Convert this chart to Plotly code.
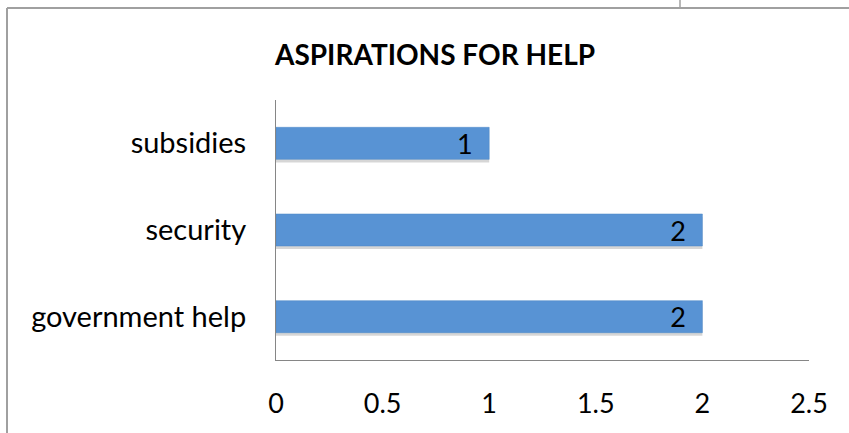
import plotly.graph_objects as go

categories = ["government help", "security", "subsidies"]
values = [2, 2, 1]
x_ticks = [0, 0.5, 1, 1.5, 2, 2.5]
x_tick_labels = ["0", "0.5", "1", "1.5", "2", "2.5"]
title = "ASPIRATIONS FOR HELP"

W, H = 849, 433
L, R, T, B = 276, 40, 100, 73
pw = W - L - R
ph = H - T - B

def px_x(p):
    return (p - L) / pw

def px_y(p):
    return (H - B - p) / ph

FONT = "Lato, 'Open Sans', sans-serif"

fig = go.Figure()
# soft shadow below the bars
fig.add_trace(go.Bar(
    y=categories, x=values, orientation="h",
    marker=dict(color="rgba(0,0,0,0.16)", line=dict(width=0)),
    width=0.37, offset=-0.22, hoverinfo="skip", showlegend=False,
))
fig.add_trace(go.Bar(
    y=categories, x=values, orientation="h",
    marker=dict(color="#5893d4", line=dict(color="#4f88c6", width=0.5)),
    width=0.37, offset=-0.185,
    text=[str(v) for v in values],
    texttemplate="%{text}\u2002",
    textposition="inside", insidetextanchor="end", constraintext="none",
    textangle=0,
    textfont=dict(color="black", size=27, family=FONT),
    showlegend=False,
))

fig.update_layout(
    width=W, height=H,
    margin=dict(l=L, r=R, t=T, b=B),
    paper_bgcolor="white", plot_bgcolor="white",
    barmode="overlay",
    title=dict(text="<b>" + title + "</b>", x=435 / W, xref="container", xanchor="center",
               y=1 - 55 / H, yref="container", yanchor="middle",
               font=dict(size=28, family=FONT, color="black")),
    xaxis=dict(range=[0, 2.5], tickvals=x_ticks, ticktext=x_tick_labels,
               showgrid=False, zeroline=False, showline=True, linecolor="#868686",
               linewidth=1, ticks="", ticklabelstandoff=20,
               tickfont=dict(size=27, family=FONT, color="black")),
    yaxis=dict(showgrid=False, zeroline=False, showline=True, linecolor="#868686",
               linewidth=1, ticks="", ticklabelstandoff=23,
               range=[-0.5, 2.5],
               tickfont=dict(size=29, family=FONT, color="black")),
    shapes=[
        dict(type="line", xref="paper", yref="paper", x0=px_x(7), x1=px_x(849), y0=px_y(8), y1=px_y(8),
             line=dict(color="#a0a0a0", width=2)),
        dict(type="line", xref="paper", yref="paper", x0=px_x(7), x1=px_x(7), y0=px_y(8), y1=px_y(433),
             line=dict(color="#a0a0a0", width=2)),
        dict(type="line", xref="paper", yref="paper", x0=px_x(680), x1=px_x(680), y0=px_y(0), y1=px_y(8),
             line=dict(color="#a0a0a0", width=1.5)),
    ],
)

fig.write_html("out.html")
